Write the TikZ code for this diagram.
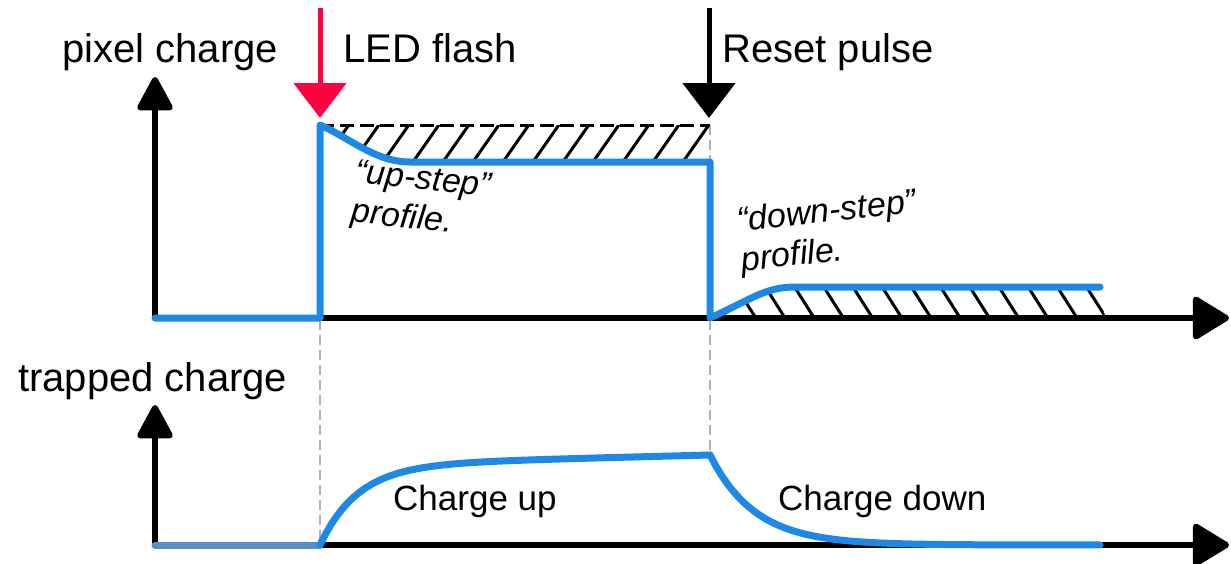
\documentclass[tikz,border=0pt]{standalone}
\usepackage{fontspec}
\setmainfont{Liberation Sans}
\usetikzlibrary{arrows.meta}
\definecolor{lineblue}{RGB}{30,136,229}
\definecolor{greyblue}{RGB}{91,142,198}
\definecolor{flashred}{RGB}{255,0,64}
\begin{document}
\begin{tikzpicture}[x=1pt,y=-1pt,
  vaxis/.style={line width=6pt,-{Triangle[length=37pt,width=38pt,round]}},
  haxis/.style={line width=6pt,-{Triangle[length=39pt,width=46pt,round]}},
  marker/.style={line width=5pt,-{Triangle[length=35pt,width=52pt]}},
  signal/.style={lineblue,line width=7pt,line join=round,line cap=round},
  hatchline/.style={line width=3pt},
  guide/.style={gray!60,line width=1.2pt,dash pattern=on 10pt off 5pt},
  biglabel/.style={font=\fontsize{40}{48}\selectfont,inner sep=0pt,anchor=base west},
  midlabel/.style={font=\fontsize{35}{42}\selectfont,inner sep=0pt,anchor=base west},
  profilelabel/.style={font=\fontsize{34}{40}\selectfont\itshape,inner sep=0pt,align=left}]
\useasboundingbox (0,0) rectangle (1231,563);

% coordinates
\coordinate (o1) at (155,318);
\coordinate (y1) at (155,77);
\coordinate (x1) at (1229,318);
\coordinate (o2) at (155,545);
\coordinate (y2) at (155,405);
\coordinate (x2) at (1229,545);
\coordinate (ledtop) at (320,8);
\coordinate (ledtip) at (320,118);
\coordinate (rsttop) at (709,8);
\coordinate (rsttip) at (709,118);

% hatching, top
\begin{scope}
  \clip (320,125) .. controls (350,138) and (375,162) .. (410,162) -- (710,162) -- (710,125) -- cycle;
  \foreach \k in {0,...,13} {
    \draw[hatchline] ({323+30*\k-5},{162+7}) -- ({323+30*\k+25+5},{125-6});
  }
\end{scope}
% hatching, bottom
\begin{scope}
  \clip (710,318) .. controls (750,300) and (765,287) .. (795,287) -- (1095,287) -- (1106,318) -- cycle;
  \foreach \k in {-1,...,12} {
    \draw[hatchline] ({736+29.2*\k-3},{287-5}) -- ({736+29.2*\k+20+3},{318+5});
  }
\end{scope}

% guides
\draw[guide] (320,125) -- (320,545);
\draw[guide] (710,125) -- (710,455);

% dashed upper bound
\draw[line width=3pt,dash pattern=on 14pt off 6pt] (320,125) -- (710,125);

% axes
\draw[vaxis] (o1) -- (y1);
\draw[haxis] (o1) -- (x1);
\draw[vaxis] (o2) -- (y2);
\draw[haxis] (o2) -- (x2);

% pixel charge signal
\draw[signal] (155,318) -- (320,318) -- (320,125)
  .. controls (350,138) and (375,162) .. (410,162) -- (710,162) -- (710,318)
  .. controls (750,300) and (765,287) .. (795,287) -- (1100,287);

% trapped charge signal
\draw[greyblue,line width=7pt,line cap=round] (155,545) -- (320,545);
\draw[signal] plot[domain=0:390,samples=70] ({320+\x},{545-80*(1-exp(-\x/38))-10*\x/390});
\draw[signal] plot[domain=0:390,samples=70] ({710+\x},{545-90*exp(-\x/45)});

% markers
\draw[marker,flashred] (ledtop) -- (ledtip);
\draw[marker,black] (rsttop) -- (rsttip);

% labels
\node[biglabel] (pc) at (62,62) {pixel charge};
\node[biglabel] (led) at (343,62) {LED flash};
\node[biglabel] (rst) at (722,62) {Reset pulse};
\node[biglabel] (tc) at (18,391) {trapped charge};
\node[midlabel] (cu) at (393,510) {Charge up};
\node[midlabel] (cd) at (778,510) {Charge down};
\node[profilelabel,rotate=-6] (ups) at (421,201) {“up-step”\\profile.};
\node[profilelabel,rotate=6] (downs) at (829,233) {“down-step”\\profile.};
\end{tikzpicture}
\end{document}
